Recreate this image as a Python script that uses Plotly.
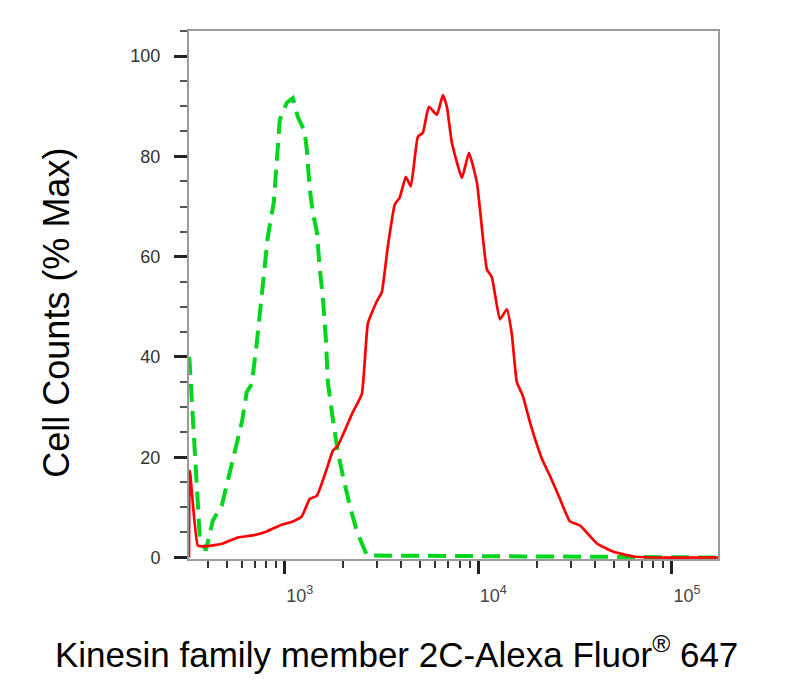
import plotly.graph_objects as go

# Stained sample (red, solid) - fluorescence intensity vs % max
red_x = [320, 323, 355, 377, 425, 479, 572, 683, 807, 942, 1100, 1224, 1346, 1463,
         1648, 1770, 1879, 2246, 2500, 2686, 2987, 3170, 3405, 3700, 3925, 4217,
         4477, 4867, 5164, 5546, 6105, 6557, 6876, 7298, 8222, 8936, 9827, 11060,
         11740, 12920, 14040, 14890, 15800, 16980, 18460, 21290, 23420, 26370,
         29700, 33470, 40960, 49540, 62830, 79720, 173000]
red_y = [0, 17.3, 2.4, 2.2, 2.4, 2.8, 4.0, 4.4, 5.2, 6.4, 7.2, 8.2, 11.7, 12.3,
         17.7, 21.3, 22.3, 29.0, 32.6, 46.7, 51.1, 52.9, 62.0, 70.4, 71.8, 75.9,
         74.0, 83.9, 84.7, 89.9, 88.3, 92.2, 89.9, 82.7, 75.7, 80.7, 74.8, 57.5,
         55.9, 47.5, 49.5, 44.5, 35.0, 32.2, 27.0, 19.7, 16.3, 11.7, 7.2, 6.4,
         2.8, 1.2, 0.2, 0, 0]

# Isotype control (green, dashed)
green_x = [321, 343, 364, 391, 425, 472, 520, 572, 600, 636, 675, 717, 760, 788,
           817, 877, 909, 942, 1024, 1100, 1167, 1268, 1299, 1346, 1396, 1463,
           1517, 1571, 1630, 1668, 1770, 1879, 1994, 2168, 2357, 2655, 173000]
green_y = [40.0, 21.7, 3.8, 1.4, 7.4, 10.3, 17.1, 23.1, 27.0, 33.0, 34.6, 42.9,
           53.0, 58.8, 64.0, 70.8, 78.7, 87.3, 90.7, 91.6, 87.9, 84.9, 81.3, 73.4,
           68.8, 65.0, 57.5, 52.1, 43.5, 35.0, 27.6, 21.1, 16.3, 10.3, 5.2, 0.4, 0]

x_major = [1000, 10000, 100000]
x_major_text = ["10<sup>3</sup>", "10<sup>4</sup>", "10<sup>5</sup>"]
x_minor = [400, 500, 600, 700, 800, 900,
           2000, 3000, 4000, 5000, 6000, 7000, 8000, 9000,
           20000, 30000, 40000, 50000, 60000, 70000, 80000, 90000]
y_major = [0, 20, 40, 60, 80, 100]

x_title = 'Kinesin family member 2C-Alexa Fluor<sup>®</sup> 647'
y_title = 'Cell Counts (% Max)'

fig = go.Figure()
fig.add_trace(go.Scatter(
    x=green_x, y=green_y, mode='lines',
    line=dict(color='rgb(0,214,30)', width=4, dash='18px,9px'),
    name='Isotype control'
))
fig.add_trace(go.Scatter(
    x=red_x, y=red_y, mode='lines',
    line=dict(color='rgb(255,0,0)', width=2.7, shape='spline', smoothing=0.4),
    name='Kinesin family member 2C'
))

# Axis titles placed as annotations so they sit where the original has them.
fig.add_annotation(text=x_title, xref='paper', yref='paper', x=0.393, y=-0.176,
                   xanchor='center', yanchor='middle', showarrow=False,
                   font=dict(size=35, color='black'))
fig.add_annotation(text=y_title, xref='paper', yref='paper', x=-0.25, y=0.466,
                   xanchor='center', yanchor='middle', showarrow=False, textangle=-90,
                   font=dict(size=36, color='black'))

# The page body adds an 8px offset, so the margins are shifted to compensate.
fig.update_layout(
    width=785, height=692,
    margin=dict(l=181, r=75, t=23, b=141),
    plot_bgcolor='white', paper_bgcolor='white',
    showlegend=False,
    font=dict(family='Liberation Sans, Arial, sans-serif', color='black'),
    xaxis=dict(
        type='log', range=[2.505, 5.238], automargin=False,
        showline=True, linecolor='#9a9a9a', linewidth=2, mirror=True,
        showgrid=False, zeroline=False,
        tickmode='array', tickvals=x_major, ticktext=x_major_text,
        ticks='outside', ticklen=13, tickwidth=3, tickcolor='#222',
        tickfont=dict(size=18, color='#444'),
        ticklabelshift=15, ticklabelstandoff=6,
        minor=dict(tickmode='array', tickvals=x_minor, ticks='outside',
                   ticklen=7, tickwidth=2, tickcolor='#333', showgrid=False),
    ),
    yaxis=dict(
        range=[-0.3, 105], automargin=False,
        showline=True, linecolor='#9a9a9a', linewidth=2, mirror=True,
        showgrid=False, zeroline=False,
        tickmode='array', tickvals=y_major,
        ticks='outside', ticklen=13, tickwidth=3, tickcolor='#222',
        tickfont=dict(size=18, color='#333'),
        ticklabelstandoff=10,
        minor=dict(dtick=5, ticks='outside', ticklen=7, tickwidth=2,
                   tickcolor='#555', showgrid=False),
    ),
)

fig.write_html('out.html')
